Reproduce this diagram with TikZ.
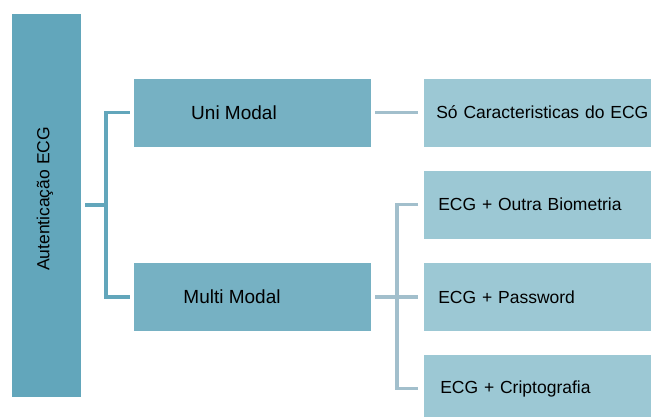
\documentclass[tikz,border=0pt]{standalone}
\usepackage{fontspec}
\setmainfont{Liberation Sans}
\definecolor{rootc}{HTML}{62A6BB}
\definecolor{midc}{HTML}{76B1C3}
\definecolor{leafc}{HTML}{9CC8D4}
\definecolor{connL}{HTML}{62A6BB}
\definecolor{connR}{HTML}{A2BFCC}
\tikzset{
  rootbox/.style={fill=rootc, draw=white, line width=0.6pt, minimum width=70pt, minimum height=384pt, inner sep=0pt},
  midbox/.style={fill=midc, draw=white, line width=0.6pt, minimum width=238pt, minimum height=69pt, inner sep=0pt},
  leafbox/.style={fill=leafc, draw=white, line width=0.6pt, anchor=west, text width=240pt, align=left, inner xsep=13pt, minimum height=69pt, font=\fontsize{17.5}{21}\selectfont},
  midtext/.style={font=\fontsize{19}{22}\selectfont},
  connl/.style={draw=connL, line width=3.3pt},
  connr/.style={draw=connR, line width=3.2pt}
}
\begin{document}
\begin{tikzpicture}[x=1pt,y=-1pt]
\useasboundingbox (0,0) rectangle (651,417);
\clip (0,0) rectangle (651,417);
\fill[white] (0,0) rectangle (651,417);
\node[rootbox] (root) at (46,205) {};
\node[rotate=90, font=\fontsize{17.5}{21}\selectfont] (roottext) at (45,199) {Autenticação ECG};
\node[midbox, label={[midtext, xshift=-18pt]center:Uni Modal}] (uni) at (252,112.5) {};
\node[midbox, label={[midtext, xshift=-20pt]center:Multi Modal}] (multi) at (252,297) {};
\node[leafbox] (so) at (423,112.5) {Só Caracteristicas do ECG};
\node[leafbox, inner xsep=15pt] (outra) at (423,204.5) {ECG + Outra Biometria};
\node[leafbox, inner xsep=15pt] (pass) at (423,297) {ECG + Password};
\node[leafbox, inner xsep=17pt] (cripto) at (423,388.5) {ECG + Criptografia};
\coordinate (jl) at (106,205);
\coordinate (jr) at (397,297);
\draw[connl] ([xshift=-3pt]uni.west) -| (jl) -- ([xshift=4pt]root.east);
\draw[connl] ([xshift=-3pt]multi.west) -| (jl);
\draw[connr] ([xshift=4pt]uni.east) -- ([xshift=-5pt]so.west);
\draw[connr] ([xshift=4pt]multi.east) -- ([xshift=-5pt]pass.west);
\draw[connr] ([xshift=-5pt]outra.west) -| (jr) |- ([xshift=-5pt]cripto.west);
\end{tikzpicture}
\end{document}
